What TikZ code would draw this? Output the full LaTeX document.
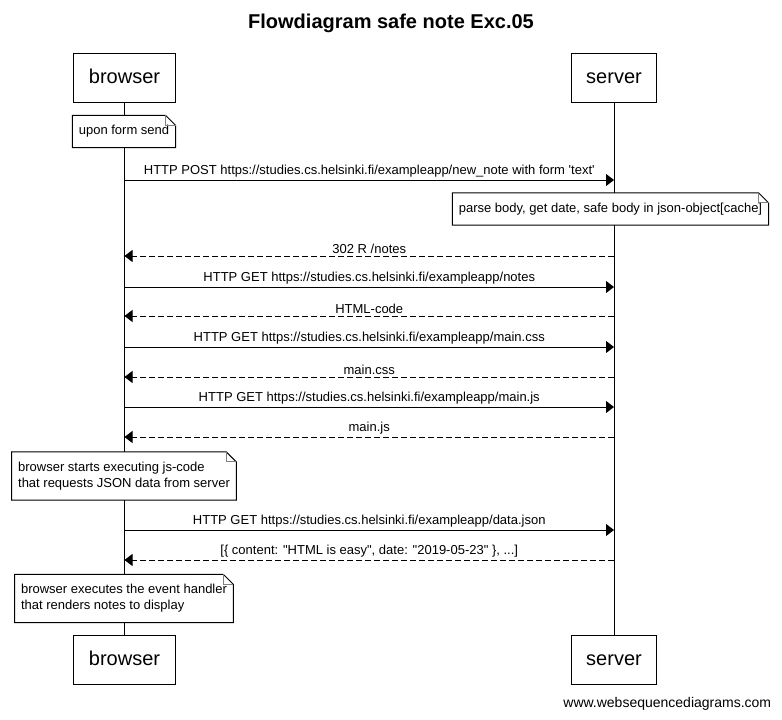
\documentclass[tikz,border=0pt]{standalone}
\usepackage{fontspec}
\newfontfamily\seqfont[Ligatures=NoCommon]{Liberation Sans}
\usetikzlibrary{arrows.meta,positioning}

\tikzset{
	actor/.style={draw,fill=white,font=\seqfont\fontsize{20}{24}\selectfont,minimum height=49pt,inner xsep=15pt,text height=15pt,text depth=4pt},
	notebox/.style={fill=white,align=left,font=\seqfont\fontsize{13}{16}\selectfont,inner xsep=6pt,inner ysep=9.5pt},
	msg/.style={->},
	reply/.style={->,dash pattern=on 6pt off 3pt},
	msglabel/.style={midway,above=2pt,inner sep=0pt,font=\seqfont\fontsize{13}{16}\selectfont}
}

\begin{document}
\begin{tikzpicture}[>={Triangle[length=8pt,width=12pt]},x=1pt,y=-1pt,line width=1pt]
		\useasboundingbox (0,0) rectangle (782,720);
		\node[font=\seqfont\bfseries\fontsize{20}{24}\selectfont] (title) at (391,23) {Flowdiagram safe note Exc.05};
		% participants
		\node[actor] (browserTop) at (124.5,77.5) {browser};
		\node[actor] (serverTop) at (614,77.5) {server};
		\node[actor] (browserBot) at (124.5,660) {browser};
		\node[actor] (serverBot) at (614,660) {server};
		\draw (browserTop) -- (browserBot);
		\draw (serverTop) -- (serverBot);
		% notes
		\node[notebox] (sendNote) at (124,131.5) {upon form send};
		\node[notebox] (parseNote) at (610.5,209) {parse body, get date, safe body in json-object[cache]};
		\node[notebox] (jsNote) at (124,476) {browser starts executing js-code\\that requests JSON data from server};
		\node[notebox] (handlerNote) at (124,598.5) {browser executes the event handler\\that renders notes to display};
		\foreach \n in {sendNote,parseNote,jsNote,handlerNote} {
			\draw (\n.north west) -- ([xshift=-10pt]\n.north east) -- ([yshift=-10pt]\n.north east) -- (\n.south east) -- (\n.south west) -- cycle;
			\draw[gray] ([xshift=-10pt]\n.north east) -- ([xshift=-10pt,yshift=-10pt]\n.north east) -- ([yshift=-10pt]\n.north east);
		}
		% requests
		\foreach \y/\txt in {180/{HTTP POST https://studies.cs.helsinki.fi/exampleapp/new\_note with form 'text'},
			287/{HTTP GET https://studies.cs.helsinki.fi/exampleapp/notes},
			347/{HTTP GET https://studies.cs.helsinki.fi/exampleapp/main.css},
			407/{HTTP GET https://studies.cs.helsinki.fi/exampleapp/main.js},
			530/{HTTP GET https://studies.cs.helsinki.fi/exampleapp/data.json}}
			\draw[msg] (browserTop |- 0,\y) -- node[msglabel] {\txt} (serverTop |- 0,\y);
		% responses
		\foreach \y/\txt in {256/{302 R /notes},316/{HTML-code},377/{main.css},437/{main.js},
			560/{[\{ content: "HTML is easy", date: "2019-05-23" \}, ...]}}
			\draw[reply] (serverTop |- 0,\y) -- node[msglabel] {\txt} (browserTop |- 0,\y);
		\node[anchor=base east,font=\seqfont\fontsize{14}{17}\selectfont] (credit) at (775,707) {www.websequencediagrams.com};
\end{tikzpicture}
\end{document}
